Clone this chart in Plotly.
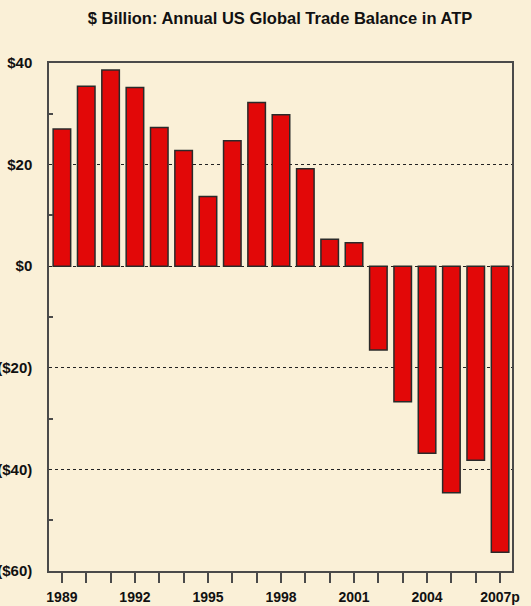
import plotly.graph_objects as go

years = ["1989", "1990", "1991", "1992", "1993", "1994", "1995", "1996", "1997", "1998",
         "1999", "2000", "2001", "2002", "2003", "2004", "2005", "2006", "2007p"]
balance = [27.0, 35.4, 38.6, 35.2, 27.3, 22.8, 13.7, 24.7, 32.2, 29.8,
           19.2, 5.3, 4.6, -16.5, -26.7, -36.8, -44.6, -38.2, -56.3]
x_labels = ["1989", "", "", "1992", "", "", "1995", "", "", "1998", "", "",
            "2001", "", "", "2004", "", "", "2007p"]
y_tickvals = [40, 20, 0, -20, -40, -60]
y_ticktext = ["$40", "$20", "$0", "($20)", "($40)", "($60)"]

idx = list(range(len(years)))
FONT = "Arial, Liberation Sans, sans-serif"
BG = "#FAF0D7"
FRAME = "#4a4a4a"

W, H = 531, 606

fig = go.Figure()
fig.add_trace(go.Bar(
    x=idx, y=balance, width=0.72,
    marker=dict(color="#E20808", line=dict(color="#2a2a2a", width=1.5)),
    hovertext=years,
))

fig.update_layout(
    width=W, height=H,
    paper_bgcolor=BG, plot_bgcolor=BG,
    margin=dict(l=49, r=19, t=63, b=35),
    showlegend=False,
    title=dict(text="$ Billion: Annual US Global Trade Balance in ATP",
               x=280 / W, xanchor="center", y=1 - 18 / H, yanchor="middle",
               font=dict(family=FONT, size=16.5, color="#111111", weight="bold")),
    font=dict(family=FONT, color="#111111"),
)

fig.update_xaxes(
    range=[-0.53, 18.49],
    tickmode="array", tickvals=idx, ticktext=x_labels,
    ticks="outside", ticklen=10, tickwidth=1.5, tickcolor=FRAME,
    tickfont=dict(family=FONT, size=14, color="#111111", weight="bold"),
    ticklabelstandoff=2,
    showgrid=False, zeroline=False,
    showline=True, linecolor=FRAME, linewidth=1.5, mirror=True,
    automargin=False,
)
fig.update_yaxes(
    range=[-60, 40],
    tickmode="array", tickvals=y_tickvals, ticktext=y_ticktext,
    ticks="",
    tickfont=dict(family=FONT, size=15, color="#111111", weight="bold"),
    ticklabelstandoff=12,
    showgrid=True, gridcolor="#222222", griddash="3px,3px", gridwidth=1,
    zeroline=False,
    minor=dict(tickmode="array", tickvals=[30, 10, -10, -30, -50], ticks="inside",
               ticklen=4, tickwidth=1.5, tickcolor=FRAME, showgrid=False),
    showline=True, linecolor=FRAME, linewidth=1.5, mirror=True,
    automargin=False,
)

fig.write_html("out.html",
               config={"displayModeBar": False},
               post_script="document.body.style.margin='0';document.body.style.overflow='hidden';")
